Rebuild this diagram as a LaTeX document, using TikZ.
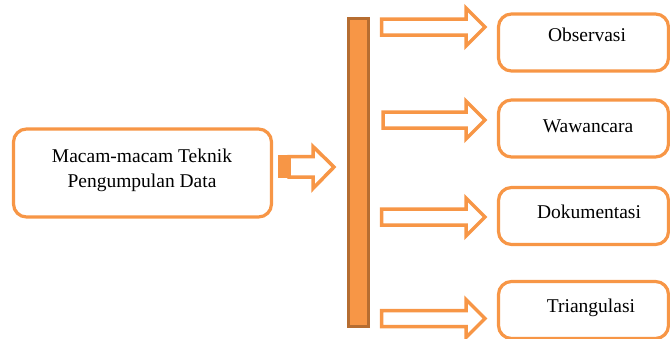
\documentclass[tikz,border=0pt]{standalone}
\usepackage{fontspec}
\setmainfont{Liberation Serif}
\newfontfamily\tnr{Liberation Serif}
\definecolor{org}{HTML}{F79646}
\definecolor{brn}{HTML}{B66D31}
\newcommand\blkarrow[2]{%
  \draw[arr] (#1,#2-8) -- (466,#2-8) -- (466,#2-19) -- (485,#2) -- (466,#2+19) -- (466,#2+8) -- (#1,#2+8) -- cycle;}
\begin{document}
\begin{tikzpicture}[x=1pt,y=-1pt,
  box/.style={draw=org, line width=3.2pt, rounded corners=13pt, fill=white, inner sep=0pt},
  arr/.style={draw=org, line width=3.5pt, fill=white, line join=miter},
  lbl/.style={font=\tnr\fontsize{19.5}{25}\selectfont, text=black, inner sep=0pt, anchor=base}]
\useasboundingbox (0,0) rectangle (670,338);
% source box
\node[box, minimum width=258pt, minimum height=88pt] (src) at (142.5,173) {};
\node[lbl] (srct1) at (142,162) {Macam-macam Teknik};
\node[lbl] (srct2) at (142,187) {Pengumpulan Data};
% left arrow
\fill[org] (278,155) rectangle (289,178);
\draw[arr] (289,156.5) -- (313,156.5) -- (313,146.5) -- (334,167) -- (313,188.5) -- (313,177) -- (289,177) -- cycle;
% bar
\node[fill=org, draw=brn, line width=2.5pt, minimum width=20pt, minimum height=308pt, inner sep=0pt] (bar) at (358.5,172.5) {};
% right arrows
\blkarrow{381.5}{27}
\blkarrow{383}{120}
\blkarrow{381.5}{217}
\blkarrow{381.5}{318.5}
% target boxes
\node[box, minimum width=170pt, minimum height=57pt] (obs) at (583.5,42.5) {};
\node[box, minimum width=170pt, minimum height=57pt] (waw) at (583.5,128.5) {};
\node[box, minimum width=170pt, minimum height=57pt] (dok) at (583.5,216) {};
\node[box, minimum width=170pt, minimum height=57pt] (tri) at (583.5,310) {};
\node[lbl] (obst) at (587,41) {Observasi};
\node[lbl] (wawt) at (588,132) {Wawancara};
\node[lbl] (dokt) at (589,218) {Dokumentasi};
\node[lbl] (trit) at (591,312) {Triangulasi};
\end{tikzpicture}
\end{document}
